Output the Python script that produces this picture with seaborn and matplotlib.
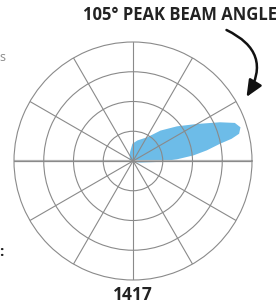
import numpy as np
import pandas as pd
import matplotlib
matplotlib.use("Agg")
import matplotlib.pyplot as plt
from matplotlib.patches import FancyArrowPatch
import seaborn as sns

# --- data ---
title_text = "105° PEAK BEAM ANGLE"
model_label = "1417"
ring_values = [1, 2, 3]
spoke_angles = list(range(0, 360, 30))
lobe_theta_deg = [-11.7, -2.3, 2.2, 5.3, 8.2, 11.2, 12.7, 14.4, 17.4, 20.5, 24.0, 30.1,
                  38.2, 47.9, 59.0, 78.0, 92.0, 108.4, 160.0, 203.5, -11.7]
lobe_r = [0.262, 0.814, 1.481, 2.042, 2.506, 2.98, 3.397, 3.682, 3.786, 3.655, 3.2, 2.482,
          1.885, 1.378, 0.933, 0.705, 0.58, 0.316, 0.12, 0.084, 0.262]

sns.set_style("white")
plt.rcParams['font.family'] = ['Open Sans', 'DejaVu Sans']

W, H = 276, 305
fig = plt.figure(figsize=(W / 100, H / 100), dpi=100)

cx, cy, R = 133, 161, 119
ax = fig.add_axes([(cx - R) / W, (H - cy - R) / H, 2 * R / W, 2 * R / H], projection="polar")

df = pd.DataFrame({"theta": np.deg2rad(lobe_theta_deg), "r": lobe_r})
ax.fill(df["theta"], df["r"], color="#6dbce8", lw=0, zorder=1)

ax.set_ylim(0, 4)
ax.set_rgrids(ring_values, labels=[])
ax.set_thetagrids(spoke_angles, labels=[])
ax.grid(True, color="#8a8a8a", lw=0.8)
for gl in ax.xaxis.get_gridlines() + ax.yaxis.get_gridlines():
    gl.set_zorder(2)
ax.set_axisbelow(False)
ax.spines["polar"].set_color("#8a8a8a")
ax.spines["polar"].set_linewidth(0.8)
ax.plot([0, 0], [0, 4], color="#b5b5b5", lw=1.6, zorder=2)
ax.plot([np.pi, np.pi], [0, 4], color="#b5b5b5", lw=1.6, zorder=2)
ax.set_facecolor("white")

fig.text(83 / W, 1 - 19.5 / H, title_text, fontsize=12, fontweight="bold",
         color="#222222", ha="left", va="baseline")
fig.text(133 / W, 1 - 300 / H, model_label, fontsize=12.5, fontweight="bold",
         color="#222222", ha="center", va="baseline")
fig.text(-1 / W, 1 - 61 / H, "s", fontsize=9, color="#8a8a8a", ha="left", va="baseline")
fig.text(-0.5 / W, 1 - 256 / H, ":", fontsize=11, fontweight="bold", color="#222222",
         ha="left", va="baseline")

arrow = FancyArrowPatch((226.5 / W, 1 - 30 / H), (246.5 / W, 1 - 97 / H),
                        transform=fig.transFigure, connectionstyle="arc3,rad=-0.55",
                        arrowstyle="-|>,head_length=0.5,head_width=0.22",
                        color="#111111", lw=1.8, mutation_scale=20, shrinkA=0, shrinkB=0)
fig.patches.append(arrow)

fig.savefig("out.png", dpi=100)
